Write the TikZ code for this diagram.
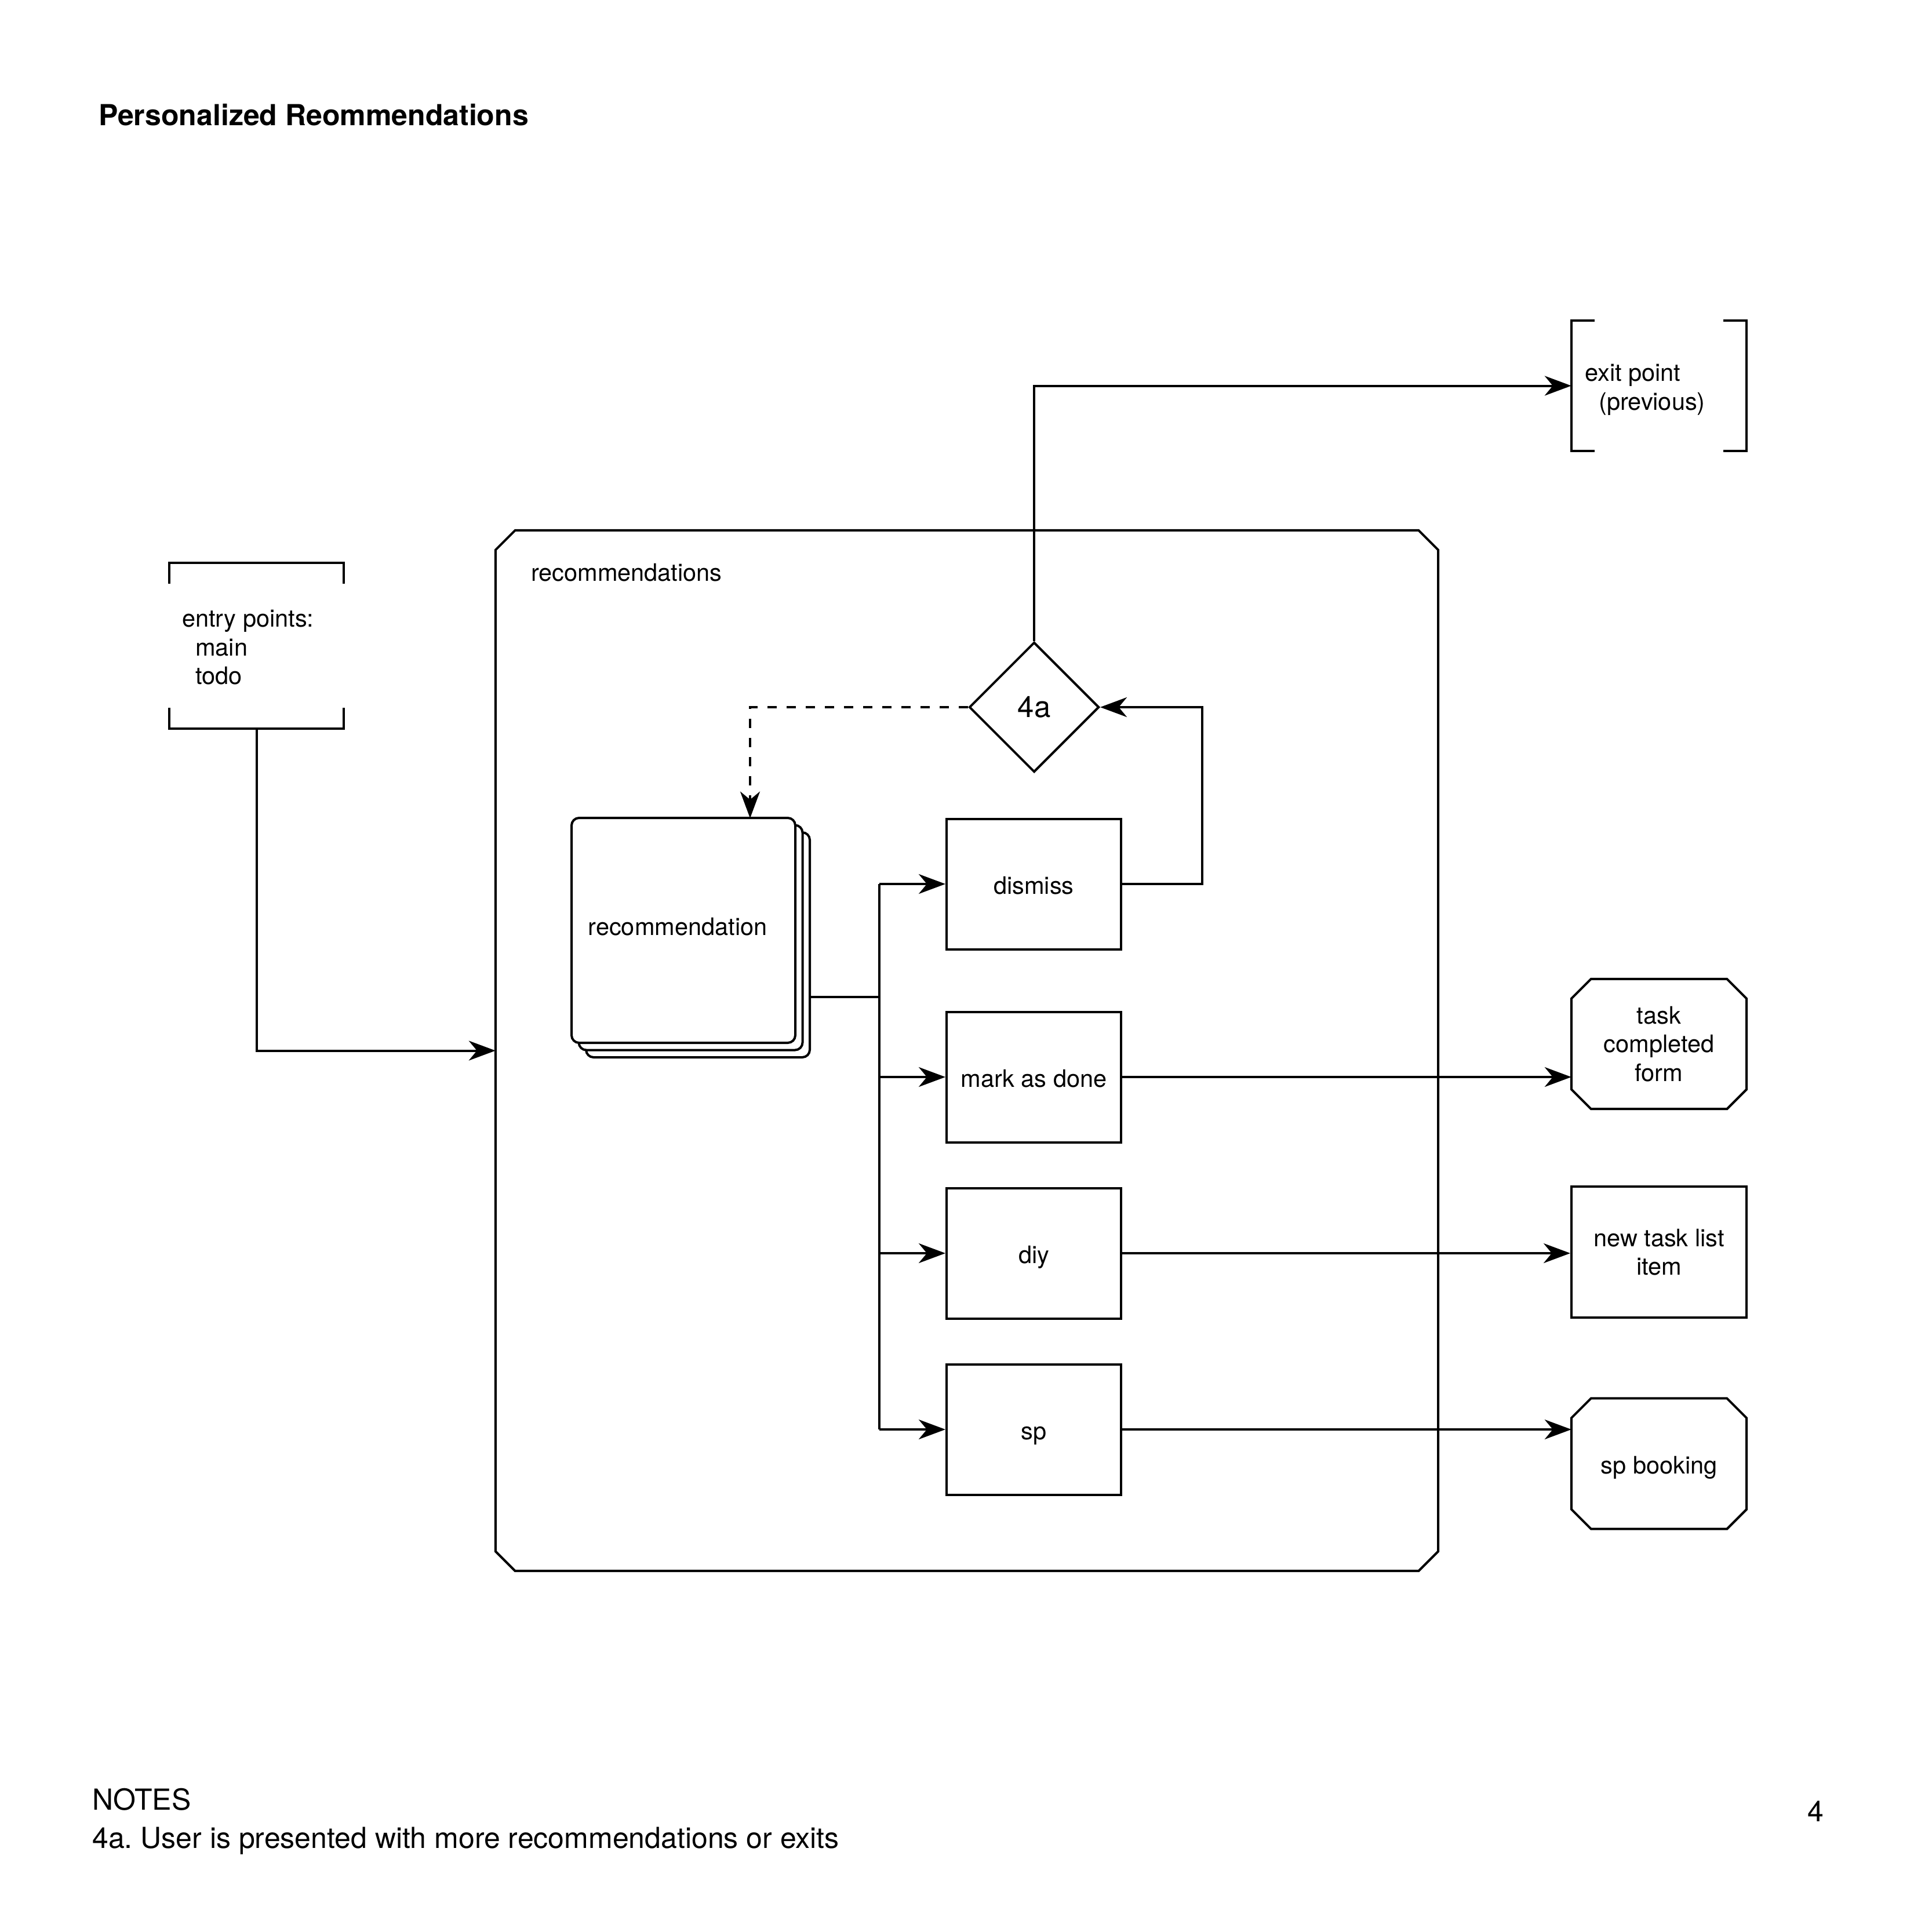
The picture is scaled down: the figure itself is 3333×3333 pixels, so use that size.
\documentclass[tikz,border=0pt]{standalone}
\usepackage{fontspec}
\setmainfont{TeX Gyre Heros}
\usetikzlibrary{arrows.meta,shapes.geometric,calc}
\newcommand\octoframe[2]{%
  \draw[ln] ([xshift=#2]#1.north west) -- ([xshift=-#2]#1.north east) -- ([yshift=-#2]#1.north east)
    -- ([yshift=#2]#1.south east) -- ([xshift=-#2]#1.south east) -- ([xshift=#2]#1.south west)
    -- ([yshift=#2]#1.south west) -- ([yshift=-#2]#1.north west) -- cycle;}
\frenchspacing
\begin{document}
\begin{tikzpicture}[x=1pt,y=-1pt,
  ln/.style={line width=4pt, line join=miter},
  arr/.style={ln, -{Stealth[length=46pt,width=34pt,inset=14pt]}},
  dsh/.style={arr, dash pattern=on 16pt off 17pt},
  txt/.style={font=\fontsize{41.5}{49.5}\selectfont, inner sep=0pt},
  bigtxt/.style={font=\fontsize{50}{66}\selectfont, inner sep=0pt},
  box/.style={ln, draw, rectangle, minimum width=301pt, minimum height=225pt, inner sep=0pt,
    font=\fontsize{41.5}{49.5}\selectfont, align=center},
  onerow/.style={text height=34pt, text depth=0pt},
  plainbox/.style={rectangle, minimum width=302pt, minimum height=225pt, inner sep=0pt,
    font=\fontsize{41.5}{49.5}\selectfont, align=center},
  card/.style={ln, draw, fill=white, rounded corners=13pt, minimum width=386pt, minimum height=388pt, inner sep=0pt},
]
\fill[white] (0,0) rectangle (3333,3333);
\useasboundingbox (0,0) rectangle (3333,3333);

% title and notes
\node[bigtxt, font=\fontsize{50}{60}\selectfont\bfseries, anchor=base west] (title) at (170,216) {Personalized Reommendations};
\node[bigtxt, anchor=base west] (notes) at (159,3122) {NOTES};
\node[bigtxt, anchor=base west] (note1) at (159,3188) {4a. User is presented with more recommendations or exits};
\node[bigtxt, anchor=base west] (page) at (3118,3142) {4};

% container
\node[plainbox, minimum width=1626pt, minimum height=1795pt] (cont) at (1668,1812.5) {};
\octoframe{cont}{34pt}
\node[txt, anchor=base west] (contlabel) at (916,1002) {recommendations};

% entry bracket
\node[plainbox, minimum width=301pt, minimum height=286pt] (entry) at (442.5,1114) {};
\draw[ln] ([yshift=-36pt]entry.north west) -- (entry.north west) -- (entry.north east) -- ([yshift=-36pt]entry.north east);
\draw[ln] ([yshift=36pt]entry.south west) -- (entry.south west) -- (entry.south east) -- ([yshift=36pt]entry.south east);
\node[txt, anchor=base west] (e1) at (314,1081) {entry points:};
\node[txt, anchor=base west] (e2) at (337,1131) {main};
\node[txt, anchor=base west] (e3) at (337,1180) {todo};

% exit bracket
\node[plainbox] (exit) at (2862,665.5) {};
\draw[ln] ([xshift=40pt]exit.north west) -- (exit.north west) -- (exit.south west) -- ([xshift=40pt]exit.south west);
\draw[ln] ([xshift=-40pt]exit.north east) -- (exit.north east) -- (exit.south east) -- ([xshift=-40pt]exit.south east);
\node[txt, anchor=base west] (x1) at (2734,657) {exit point};
\node[txt, anchor=base west] (x2) at (2758,707) {(previous)};

% decision
\node[ln, draw, diamond, aspect=1, minimum width=224pt, minimum height=224pt, inner sep=0pt,
  font=\fontsize{51}{60}\selectfont] (dia) at (1784,1220) {4a};

% recommendation stack
\node[card] (rec3) at (1204,1630) {};
\node[card] (rec2) at (1191.5,1617.5) {};
\node[card] (rec) at (1179,1605) {};
\node[txt, anchor=base] (rectxt) at (1169,1613) {recommendation};

% action boxes
\node[box, onerow] (dismiss) at (1783.5,1525) {dismiss};
\node[box, onerow] (mark) at (1783.5,1858) {mark as done};
\node[box, onerow] (diy) at (1783.5,2162) {diy};
\node[box, onerow] (sp) at (1783.5,2466) {sp};

% targets
\node[plainbox, minimum height=224pt] (task) at (2862,1801) {task\\completed\\form};
\octoframe{task}{34pt}
\node[box, minimum width=302pt, minimum height=226pt] (newtask) at (2862,2160) {new task list\\item};
\node[plainbox, onerow] (spbook) at (2862,2525) {sp booking};
\octoframe{spbook}{34pt}

% connectors
\coordinate (bus) at (1517,1720);
\coordinate (dtop) at (1294,1411.5);
\draw[arr] (entry.south) |- (cont.west);
\draw[arr] (dia.north) |- (exit.west);
\draw[dsh] (dia.west) -| (dtop);
\draw[ln] (bus -| rec3.east) -- (bus);
\draw[ln] (bus |- dismiss.west) -- (bus |- sp.west);
\draw[arr] (bus |- dismiss.west) -- (dismiss.west);
\draw[arr] (bus |- mark.west) -- (mark.west);
\draw[arr] (bus |- diy.west) -- (diy.west);
\draw[arr] (bus |- sp.west) -- (sp.west);
\draw[arr] (dismiss.east) -- ++(138,0) |- (dia.east);
\draw[arr] (mark.east) -- (mark.east -| task.west);
\draw[arr] (diy.east) -- (diy.east -| newtask.west);
\draw[arr] (sp.east) -- (sp.east -| spbook.west);
\end{tikzpicture}
\end{document}
